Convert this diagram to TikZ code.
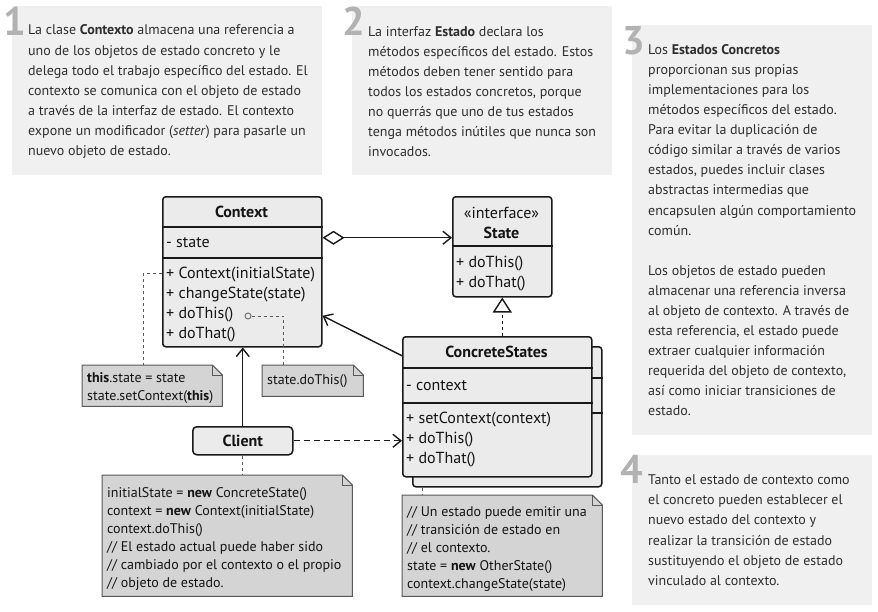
\documentclass[tikz,border=0pt]{standalone}
\usepackage{fontspec}
\setmainfont{PT Sans}
\usetikzlibrary{arrows.meta}

\tikzset{
  bgbox/.style={fill=black!6, anchor=north west, inner sep=0pt},
  desc/.style={anchor=west, align=left, inner sep=0pt, text=black!82, font=\fontsize{14}{20.1}\selectfont},
  num/.style={anchor=north west, inner sep=0pt, text=black!30, font=\bfseries\fontsize{40}{40}\selectfont},
  umlbox/.style={draw=black!90, line width=1.5pt, fill=black!8, rounded corners=3pt, anchor=north west, inner sep=0pt},
  umltitle/.style={inner sep=0pt, align=center, text=black!92, font=\fontsize{16}{20}\selectfont},
  umltext/.style={anchor=west, align=left, inner sep=0pt, text=black!92, font=\fontsize{16}{20}\selectfont},
  divider/.style={draw=black!90, line width=1.5pt},
  notearea/.style={anchor=north west, inner sep=0pt},
  notebg/.style={fill=black!17, draw=black!65, line width=1pt},
  notetext/.style={anchor=west, align=left, inner sep=0pt, text=black!92, font=\fontsize{14}{18}\selectfont},
  link/.style={draw=black!90, line width=1.4pt},
  notelink/.style={draw=black!65, line width=1pt, dash pattern=on 3pt off 3pt},
  open/.style={-{Straight Barb[length=8pt, width=13pt]}},
}

\begin{document}
\begin{tikzpicture}[x=1pt, y=-1pt]
\useasboundingbox (0,0) rectangle (878,611);

% textos explicativos
\node[bgbox, minimum width=310pt, minimum height=169pt] (box1) at (12,6) {};
\node[bgbox, minimum width=260pt, minimum height=169pt] (box2) at (352,6) {};
\node[bgbox, minimum width=240pt, minimum height=410pt] (box3) at (632,25) {};
\node[bgbox, minimum width=240pt, minimum height=150pt] (box4) at (632,455) {};

\node[num] (num1) at (3,7) {1};
\node[num] (num2) at (342,7) {2};
\node[num] (num3) at (622,26) {3};
\node[num] (num4) at (620,455) {4};

\node[desc] (text1) at ([xshift=16pt, yshift=-1pt]box1.west) {La clase \textbf{Contexto} almacena una referencia a\\uno de los objetos de estado concreto y le\\delega todo el trabajo específico del estado. El\\contexto se comunica con el objeto de estado\\a través de la interfaz de estado. El contexto\\expone un modificador (\textit{setter}) para pasarle un\\nuevo objeto de estado.};
\node[desc] (text2) at ([xshift=16pt, yshift=-1pt]box2.west) {La interfaz \textbf{Estado} declara los\\métodos específicos del estado. Estos\\métodos deben tener sentido para\\todos los estados concretos, porque\\no querrás que uno de tus estados\\tenga métodos inútiles que nunca son\\invocados.};
\node[desc] (text3) at ([xshift=16pt]box3.west) {Los \textbf{Estados Concretos}\\proporcionan sus propias\\implementaciones para los\\métodos específicos del estado.\\Para evitar la duplicación de\\código similar a través de varios\\estados, puedes incluir clases\\abstractas intermedias que\\encapsulen algún comportamiento\\común.\\[20pt]Los objetos de estado pueden\\almacenar una referencia inversa\\al objeto de contexto. A través de\\esta referencia, el estado puede\\extraer cualquier información\\requerida del objeto de contexto,\\así como iniciar transiciones de\\estado.};
\node[desc] (text4) at ([xshift=16pt]box4.west) {Tanto el estado de contexto como\\el concreto pueden establecer el\\nuevo estado del contexto y\\realizar la transición de estado\\sustituyendo el objeto de estado\\vinculado al contexto.};

% clases
\node[umlbox, minimum width=159pt, minimum height=150pt] (context) at (162,196) {};
\draw[divider] ([yshift=-31pt]context.north west) -- ([yshift=-31pt]context.north east);
\draw[divider] ([yshift=-62pt]context.north west) -- ([yshift=-62pt]context.north east);
\node[umltitle] (contexttitle) at (241.5,212) {\textbf{Context}};
\node[umltext] (contextfield) at (166,243) {- state};
\node[umltext] (contextops) at (166,305) {+ Context(initialState)\\+ changeState(state)\\+ doThis()\\+ doThat()};

\node[umlbox, minimum width=99pt, minimum height=100pt] (state) at (452,196) {};
\draw[divider] ([yshift=-50pt]state.north west) -- ([yshift=-50pt]state.north east);
\node[umltitle] (statetitle) at (501.5,223) {«interface»\\\textbf{State}};
\node[umltext] (stateops) at (456,274) {+ doThis()\\+ doThat()};

\node[umlbox, minimum width=189pt, minimum height=140pt] (concreteback) at (412,346) {};
\draw[divider] ([yshift=-32pt]concreteback.north west) -- ([yshift=-32pt]concreteback.north east);
\draw[divider] ([yshift=-67pt]concreteback.north west) -- ([yshift=-67pt]concreteback.north east);
\node[umlbox, minimum width=189pt, minimum height=140pt] (concrete) at (402,336) {};
\draw[divider] ([yshift=-32pt]concrete.north west) -- ([yshift=-32pt]concrete.north east);
\draw[divider] ([yshift=-67pt]concrete.north west) -- ([yshift=-67pt]concrete.north east);
\node[umltitle] (concretetitle) at (496.5,352) {\textbf{ConcreteStates}};
\node[umltext] (concretefield) at (406,386) {- context};
\node[umltext] (concreteops) at (406,440) {+ setContext(context)\\+ doThis()\\+ doThat()};

\node[umlbox, minimum width=100pt, minimum height=28pt, rounded corners=4pt] (client) at (192,426) {};
\node[umltitle] (clienttitle) at (client.center) {\textbf{Client}};

% notas
\node[notearea, minimum width=140pt, minimum height=41pt] (noteset) at (82,365) {};
\node[notearea, minimum width=101pt, minimum height=31pt] (notedo) at (262,365) {};
\node[notearea, minimum width=250pt, minimum height=121pt] (noteclient) at (102,475) {};
\node[notearea, minimum width=200pt, minimum height=101pt] (notestate) at (402,495) {};
\foreach \n in {noteset,notedo,noteclient,notestate} {
  \filldraw[notebg] (\n.north west) -- ([xshift=-10pt]\n.north east) -- ([yshift=-10pt]\n.north east)
    -- (\n.south east) -- (\n.south west) -- cycle;
  \draw[notebg, fill=none] ([xshift=-10pt]\n.north east) |- ([yshift=-10pt]\n.north east);
}
\node[notetext] (notesettext) at (87,388) {\textbf{this}.state = state\\state.setContext(\textbf{this})};
\node[notetext] (notedotext) at (267,381) {state.doThis()};
\node[notetext] (noteclienttext) at (107,539) {initialState = \textbf{new} ConcreteState()\\context = \textbf{new} Context(initialState)\\context.doThis()\\// El estado actual puede haber sido\\// cambiado por el contexto o el propio\\// objeto de estado.};
\node[notetext] (notestatetext) at (407,549) {// Un estado puede emitir una\\// transición de estado en\\// el contexto.\\state = \textbf{new} OtherState()\\context.changeState(state)};

% flechas
\draw[link, {Diamond[open, fill=white, length=22pt, width=14pt]}-{Straight Barb[length=8pt, width=13pt]}]
  ([yshift=34pt]context.east) -- ([yshift=9pt]state.west);
\draw[link, dashed, -{Triangle[open, fill=white, length=15pt, width=19pt]}]
  (concrete.north -| state.south) -- (state.south);
\draw[link, open] ([yshift=51pt]concrete.west) -- ([yshift=-44pt]context.east);
\draw[link, open] (client.north) -- (client.north |- context.south);
\draw[link, open, dash pattern=on 6pt off 4pt] (client.east) -- (client.east -| concrete.west);

% enlaces a las notas
\node[circle, draw=black!55, line width=1pt, inner sep=0pt, minimum size=6pt] (dot) at (248,316) {};
\draw[notelink] ([yshift=-2pt]context.west) -| ([xshift=-9pt]noteset.north);
\draw[notelink] (dot.east) -| ([xshift=-29pt]notedo.north);
\draw[notelink] (client.south) -- (client.south |- noteclient.north);
\draw[notelink] ([xshift=10pt]concreteback.south west) -- ([xshift=10pt]concreteback.south west |- notestate.north);
\end{tikzpicture}
\end{document}
